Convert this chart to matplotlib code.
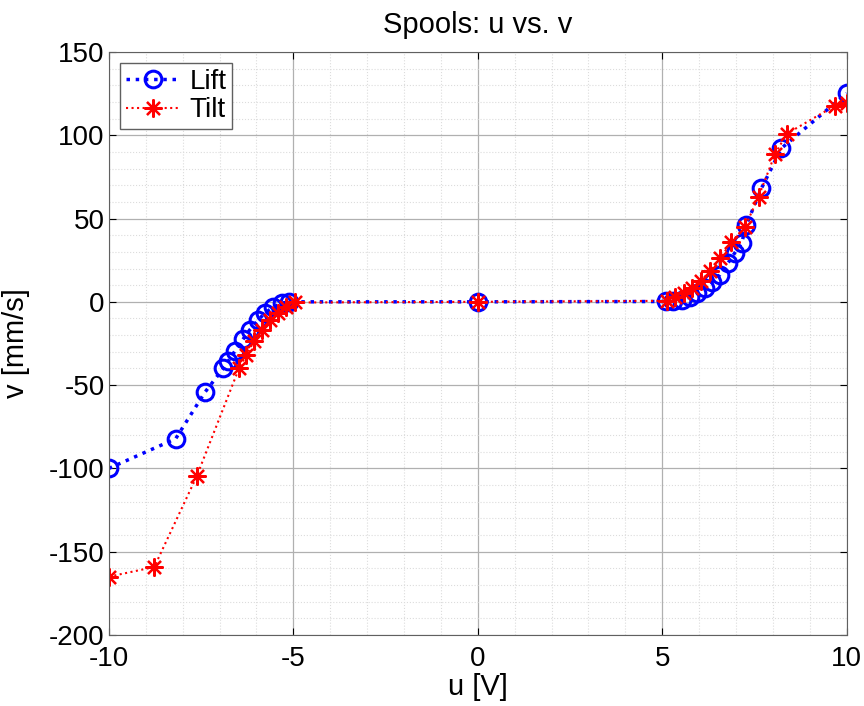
import matplotlib
matplotlib.use('Agg')
from matplotlib import pyplot as plt
from matplotlib.ticker import MultipleLocator

plt.rcParams['font.family'] = ['Liberation Sans', 'DejaVu Sans']
plt.rcParams['axes.unicode_minus'] = False

# Lift spool
u_lift = [-10, -8.19, -7.40, -6.90, -6.77, -6.59, -6.36, -6.18, -5.96, -5.78, -5.55, -5.32, -5.11,
          0,
          5.10, 5.30, 5.53, 5.75, 5.94, 6.15, 6.36, 6.56, 6.78, 6.96, 7.15, 7.28, 7.69, 8.23, 10]
v_lift = [-100, -82.2, -54.4, -40, -35.8, -29.8, -22.4, -16.8, -11.2, -6.8, -3.4, -0.8, 0,
          0,
          0.2, 0.2, 1.2, 2.8, 5.2, 8.2, 12.2, 16.2, 23.2, 29.2, 35.2, 46.2, 68.2, 92.2, 125.2]

# Tilt spool
u_tilt = [-10, -8.77, -7.62, -6.47, -6.27, -6.07, -5.86, -5.64, -5.41, -5.19, -4.96,
          0,
          5.12, 5.35, 5.58, 5.81, 6.06, 6.30, 6.57, 6.87, 7.25, 7.61, 8.06, 8.37, 9.67, 10]
v_tilt = [-165, -159.2, -104.8, -39.8, -31.8, -23.8, -17.2, -11.2, -6.8, -3.2, -0.4,
          0,
          0.6, 2.6, 5.2, 8.2, 12.6, 18.8, 26.2, 35.8, 45.2, 63.2, 88.8, 100.8, 117.6, 119.2]

fig = plt.figure(figsize=(8.64, 7.06), dpi=100)
ax = fig.add_axes([0.126, 0.1006, 0.854, 0.8258])

ax.plot(u_lift, v_lift, ':', color='#0000ff', linewidth=2.5, marker='o', markersize=12,
        markerfacecolor='none', markeredgewidth=2.2, label='Lift')
ax.plot(u_tilt, v_tilt, ':', color='#ff0000', linewidth=1.5, marker=(8, 2, 0), markersize=13,
        markeredgewidth=1.6, label='Tilt')

ax.set_xlim([-10, 10])
ax.set_ylim([-200, 150])
ax.xaxis.set_major_locator(MultipleLocator(5))
ax.yaxis.set_major_locator(MultipleLocator(50))
ax.xaxis.set_minor_locator(MultipleLocator(1))
ax.yaxis.set_minor_locator(MultipleLocator(10))
ax.grid(which='major', color='#b0b0b0', ls='-', lw=0.9)
ax.grid(which='minor', color='#dcdcdc', ls=':', lw=0.8)
ax.set_axisbelow(True)
ax.tick_params(which='both', direction='in', labelsize=20, top=True, right=True)
ax.tick_params(which='minor', length=0)
ax.tick_params(which='major', length=5)
ax.tick_params(axis='x', pad=8)
ax.tick_params(axis='y', pad=3)
for s in ax.spines.values():
    s.set_color('#606060')

ax.set_title('Spools: u vs. v', fontsize=21, pad=14)
ax.set_xlabel('u [V]', fontsize=21, labelpad=1)
ax.set_ylabel('v [mm/s]', fontsize=21, labelpad=14)

leg = ax.legend(loc='upper left', fontsize=20, fancybox=False, framealpha=1,
                edgecolor='#606060', borderaxespad=0.4, handlelength=2.0,
                borderpad=0.2, labelspacing=0.1, handletextpad=0.3)

plt.savefig('out.png', dpi=100)
